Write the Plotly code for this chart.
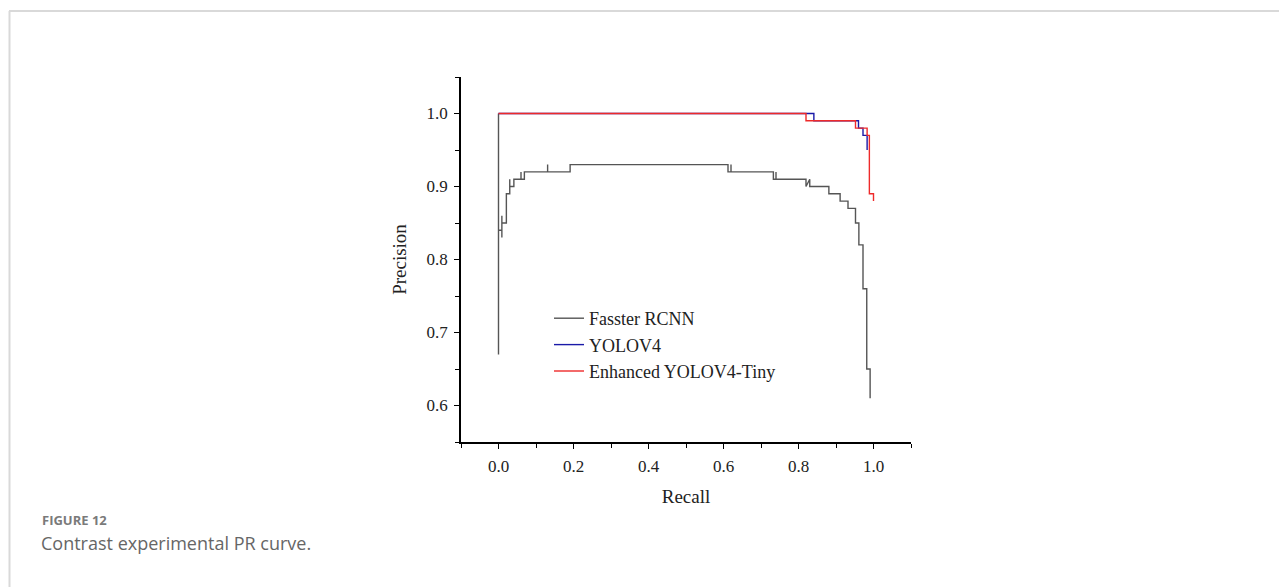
import plotly.graph_objects as go

# ---- data ----
frcnn_recall = [0.0, 0.0, 0.0, 0.009, 0.009, 0.009, 0.009, 0.021, 0.021, 0.03, 0.03, 0.03, 0.041, 0.041,
                0.06, 0.06, 0.06, 0.069, 0.069, 0.131, 0.131, 0.131, 0.191, 0.191,
                0.612, 0.612, 0.62, 0.62, 0.62, 0.733, 0.733, 0.74, 0.74, 0.74,
                0.82, 0.82, 0.83, 0.83, 0.881, 0.881, 0.911, 0.911, 0.932, 0.932,
                0.952, 0.952, 0.961, 0.961, 0.972, 0.972, 0.982, 0.982, 0.991, 0.991]
frcnn_precision = [1.0, 0.67, 0.84, 0.84, 0.86, 0.83, 0.85, 0.85, 0.89, 0.89, 0.91, 0.90, 0.90, 0.91,
                   0.91, 0.92, 0.91, 0.91, 0.92, 0.92, 0.93, 0.92, 0.92, 0.93,
                   0.93, 0.92, 0.92, 0.93, 0.92, 0.92, 0.91, 0.91, 0.92, 0.91,
                   0.91, 0.90, 0.91, 0.90, 0.90, 0.89, 0.89, 0.88, 0.88, 0.87,
                   0.87, 0.85, 0.85, 0.82, 0.82, 0.76, 0.76, 0.65, 0.65, 0.61]

yolov4_recall = [0.0, 0.841, 0.841, 0.96, 0.96, 0.972, 0.972, 0.983, 0.983]
yolov4_precision = [1.0, 1.0, 0.99, 0.99, 0.98, 0.98, 0.97, 0.97, 0.95]

tiny_recall = [0.0, 0.82, 0.82, 0.952, 0.952, 0.983, 0.983, 0.989, 0.989, 1.0, 1.0]
tiny_precision = [1.0, 1.0, 0.99, 0.99, 0.98, 0.98, 0.97, 0.97, 0.89, 0.89, 0.88]

series_names = ["Fasster RCNN", "YOLOV4", "Enhanced YOLOV4-Tiny"]
series_colors = ["#555555", "#1a1aa8", "#ee2a2a"]

x_range = [-0.1, 1.1]
y_range = [0.55, 1.05]

# ---- layout geometry (page pixels; the page body adds an 8px offset) ----
OFF = 8
W, H = 1287 - OFF, 587 - OFF
PL, PR, PT, PB = 461 - OFF, 911 - OFF, 77 - OFF, 442 - OFF


def px_x(px):
    return (px - OFF - PL) / (PR - PL)


def px_y(py):
    return (PB - (py - OFF)) / (PB - PT)


fig = go.Figure()
for name, color, xs, ys in zip(series_names, series_colors,
                               [frcnn_recall, yolov4_recall, tiny_recall],
                               [frcnn_precision, yolov4_precision, tiny_precision]):
    fig.add_trace(go.Scatter(x=xs, y=ys, mode="lines", name=name,
                             line=dict(color=color, width=1.4)))

serif = "Liberation Serif, Times New Roman, serif"

axis_common = dict(
    showgrid=False, zeroline=False, showline=True, linecolor="black", linewidth=1.5,
    ticks="outside", ticklen=5, tickwidth=1.3, tickcolor="black",
    tickfont=dict(family=serif, size=17, color="#222"),
    tickformat=".1f",
)

fig.update_layout(
    width=W, height=H,
    margin=dict(l=PL, r=W - PR, t=PT, b=H - PB),
    paper_bgcolor="white", plot_bgcolor="white",
    xaxis=dict(range=x_range, tick0=0, dtick=0.2,
               minor=dict(dtick=0.1, ticks="outside", ticklen=4, tickcolor="black", tickwidth=1.2),
               ticklabelstandoff=3,
               title=dict(text="Recall", font=dict(family=serif, size=19, color="#222"), standoff=15),
               **axis_common),
    yaxis=dict(range=y_range, tick0=0, dtick=0.1,
               minor=dict(dtick=0.05, ticks="outside", ticklen=4, tickcolor="black", tickwidth=1.2),
               ticklabelstandoff=3,
               title=dict(text="Precision", font=dict(family=serif, size=19, color="#222"), standoff=15),
               **axis_common),
    legend=dict(x=px_x(549), y=px_y(300), xanchor="left", yanchor="top",
                bgcolor="rgba(0,0,0,0)", font=dict(family=serif, size=18, color="#222"),
                tracegroupgap=0),
    showlegend=True,
)

# card frame lines
frame_color = "#d9d9d9"
fig.add_shape(type="line", xref="paper", yref="paper",
              x0=px_x(9), x1=px_x(1300), y0=px_y(11), y1=px_y(11),
              line=dict(color=frame_color, width=2))
fig.add_shape(type="line", xref="paper", yref="paper",
              x0=px_x(9.5), x1=px_x(9.5), y0=px_y(11), y1=px_y(600),
              line=dict(color=frame_color, width=2))

# caption
fig.add_annotation(xref="paper", yref="paper", x=px_x(40), y=px_y(520),
                   xanchor="left", yanchor="middle", showarrow=False,
                   text="<b>FIGURE 12</b>",
                   font=dict(family="Open Sans, sans-serif", size=13, color="#7a7a7a"))
fig.add_annotation(xref="paper", yref="paper", x=px_x(39), y=px_y(543),
                   xanchor="left", yanchor="middle", showarrow=False,
                   text="Contrast experimental PR curve.",
                   font=dict(family="Open Sans, sans-serif", size=18, color="#666666"))

fig.write_html("out.html")
